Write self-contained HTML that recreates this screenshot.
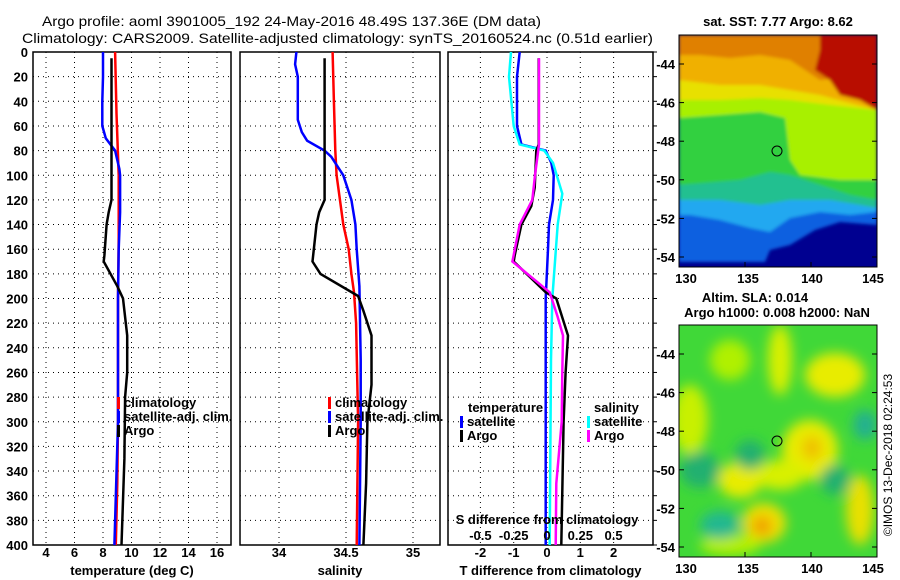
<!DOCTYPE html>
<html><head><meta charset="utf-8"><style>
body{margin:0;background:#fff}
svg{display:block;font-family:"Liberation Sans",sans-serif;font-weight:bold}
text{font-size:13px;fill:#000}
</style></head><body>
<svg id="fig" width="900" height="580" viewBox="0 0 900 580">
<text x="42" y="26" textLength="499" lengthAdjust="spacingAndGlyphs" style="font-size:14px;font-weight:normal">Argo profile: aoml 3901005_192 24-May-2016 48.49S 137.36E (DM data)</text>
<text x="22" y="43" textLength="631" lengthAdjust="spacingAndGlyphs" style="font-size:14px;font-weight:normal">Climatology: CARS2009. Satellite-adjusted climatology: synTS_20160524.nc (0.51d earlier)</text>
<defs>
<clipPath id="c1"><rect x="679" y="35" width="198" height="232"/></clipPath>
<clipPath id="c2"><rect x="679" y="325" width="198" height="232"/></clipPath>
<filter id="bl"><feGaussianBlur stdDeviation="6"/></filter>
<filter id="bs"><feGaussianBlur stdDeviation="1.5"/></filter>
</defs>
<g id="sstmap" clip-path="url(#c1)">
<rect x="679" y="35" width="198" height="232" fill="#000090"/>
<g filter="url(#bs)">
<polygon fill="#1060e0" points="679,35 877,35 877,225 840,222 815,230 790,245 770,250 765,262 679,262"/>
<polygon fill="#20a8f0" points="679,35 877,35 877,212 850,215 820,212 790,218 770,232 750,228 720,220 690,215 679,215"/>
<polygon fill="#20c090" points="679,35 877,35 877,208 860,205 830,200 790,200 760,205 720,200 679,200"/>
<polygon fill="#30d040" points="679,35 877,35 877,200 850,195 820,185 790,175 770,172 740,180 679,185"/>
<polygon fill="#a8f000" points="679,35 877,35 877,180 840,180 800,175 790,160 785,118 760,112 720,115 679,118"/>
<polygon fill="#e8e000" points="679,35 877,35 877,110 830,105 790,100 760,98 720,100 679,100"/>
<polygon fill="#f0b000" points="679,35 877,35 877,110 820,95 760,85 720,85 679,80"/>
<polygon fill="#e08000" points="679,35 877,35 877,75 820,80 790,60 760,55 730,58 700,55 679,55"/>
<polygon fill="#b81000" points="820,35 877,35 877,110 860,100 840,95 830,80 815,70 820,50"/>
</g>
<circle cx="777" cy="151" r="5" fill="none" stroke="#000"/>
</g>
<rect x="679" y="35" width="198" height="232" fill="none" stroke="#000"/>
<text x="778" y="26" text-anchor="middle">sat. SST: 7.77 Argo: 8.62</text>
<g id="slamap" clip-path="url(#c2)">
<rect x="679" y="325" width="198" height="232" fill="#40d838"/>
<g filter="url(#bl)">
<ellipse cx="780" cy="360" rx="12" ry="35" fill="#d8f000"/>
<ellipse cx="835" cy="375" rx="30" ry="22" fill="#e8ec00"/>
<ellipse cx="730" cy="360" rx="20" ry="20" fill="#b0f000"/>
<ellipse cx="690" cy="420" rx="18" ry="35" fill="#c8f000"/>
<ellipse cx="810" cy="450" rx="28" ry="30" fill="#e8ec00"/>
<ellipse cx="812" cy="448" rx="10" ry="12" fill="#f0c000"/>
<ellipse cx="780" cy="475" rx="25" ry="15" fill="#d8f000"/>
<ellipse cx="740" cy="480" rx="22" ry="18" fill="#e8ec00"/>
<ellipse cx="764" cy="523" rx="22" ry="20" fill="#f0e000"/>
<ellipse cx="762" cy="526" rx="10" ry="10" fill="#f0a000"/>
<ellipse cx="860" cy="510" rx="14" ry="35" fill="#e8e000"/>
<ellipse cx="730" cy="545" rx="30" ry="10" fill="#b8f000"/>
<ellipse cx="700" cy="470" rx="20" ry="18" fill="#20b070"/>
<ellipse cx="720" cy="525" rx="20" ry="14" fill="#20b890"/>
<ellipse cx="865" cy="425" rx="12" ry="15" fill="#20b090"/>
<ellipse cx="835" cy="480" rx="15" ry="15" fill="#20b070"/>
<ellipse cx="750" cy="455" rx="15" ry="15" fill="#20b070"/>
</g>
<circle cx="777" cy="441" r="5" fill="none" stroke="#000"/>
</g>
<rect x="679" y="325" width="198" height="232" fill="none" stroke="#000"/>
<text x="755" y="302" text-anchor="middle">Altim. SLA: 0.014</text>
<text x="777" y="317" text-anchor="middle">Argo h1000: 0.008 h2000: NaN</text>
<text transform="translate(892,455) rotate(-90)" text-anchor="middle" style="font-weight:normal;font-size:12px">©IMOS 13-Dec-2018 02:24:53</text>
<g id="axes"></g>
</svg>
<script>
// ---- data ----
const depthTicks = [0,20,40,60,80,100,120,140,160,180,200,220,240,260,280,300,320,340,360,380,400];
const tempTicks = [4,6,8,10,12,14,16];
const salTicks = [34,34.5,35];
const tdiffTicks = [-2,-1,0,1,2];
const sdiffTicks = [-0.5,-0.25,0,0.25,0.5];
const latTicks = [-44,-46,-48,-50,-52,-54];
const lonTicks = [130,135,140,145];

const tClimDepth = [0,50,100,150,200,250,300,350,400];
const tClim = [8.85,8.95,9.1,9.1,9.05,9.05,9.05,9.0,8.9];
const tSatDepth = [0,20,40,60,70,80,95,100,130,160,200,300,400];
const tSat = [8.0,8.0,7.95,7.95,8.2,8.85,9.15,9.2,9.2,9.1,9.05,9.05,8.8];
const tArgoDepth = [5,55,120,130,140,165,170,190,200,230,260,280,330,400];
const tArgo = [8.6,8.6,8.6,8.4,8.25,8.1,8.05,9.0,9.4,9.7,9.7,9.55,9.5,9.3];

const sClimDepth = [0,40,80,100,140,160,180,195,220,300,400];
const sClim = [34.40,34.41,34.42,34.43,34.48,34.52,34.54,34.56,34.575,34.59,34.58];
const sSatDepth = [0,10,20,55,65,72,80,85,100,120,140,160,190,250,300,400];
const sSat = [34.13,34.12,34.14,34.14,34.17,34.21,34.34,34.39,34.48,34.54,34.57,34.58,34.60,34.61,34.61,34.60];
const sArgoDepth = [5,120,130,140,170,180,198,210,230,270,300,350,400];
const sArgo = [34.34,34.34,34.30,34.28,34.25,34.31,34.59,34.63,34.69,34.69,34.66,34.65,34.63];

const dTSatDepth = [0,20,60,75,80,90,100,120,140,160,200,400];
const dTSat = [-0.82,-0.9,-0.9,-0.77,-0.04,0.13,0.2,0.18,0.06,0.03,-0.04,-0.04];
const dTArgoDepth = [5,75,80,110,125,140,165,170,185,195,200,230,260,300,400];
const dTArgo = [-0.25,-0.25,-0.32,-0.37,-0.47,-0.77,-0.97,-1.0,-0.42,-0.04,0.28,0.63,0.56,0.5,0.43];
const dSSatDepth = [0,20,60,75,80,90,115,140,170,200,250,400];
const dSSat = [-0.27,-0.285,-0.25,-0.205,-0.02,0.045,0.115,0.08,0.06,0.04,0.03,0.02];
const dSArgoDepth = [5,75,100,120,140,170,195,215,230,260,300,350,400];
const dSArgo = [-0.06,-0.06,-0.09,-0.11,-0.205,-0.26,0.02,0.08,0.12,0.115,0.11,0.07,0.065];

// ---- scales ----
const NS='http://www.w3.org/2000/svg';
const g=document.getElementById('axes');
const Y0=52,Y1=545;
const yD=d=>Y0+(d/400)*(Y1-Y0);
const xT=v=>103+(v-8)*14.25;
const xS=v=>279+(v-34)*134;
const xDT=v=>547+v*33.3;
const xDS=v=>547+v*133.2;
function el(tag,attrs,parent){const e=document.createElementNS(NS,tag);for(const k in attrs)e.setAttribute(k,attrs[k]);(parent||g).appendChild(e);return e;}
function txt(x,y,s,anchor,name){const t=el('text',{x:x,y:y,'text-anchor':anchor||'middle'});t.textContent=s;


return t;}

const panels=[{x0:33,x1:231,ticks:tempTicks,sc:xT,title:'temperature (deg C)',name:'temperature-panel'},
{x0:240,x1:440,ticks:salTicks,sc:xS,title:'salinity',name:'salinity-panel'},
{x0:448,x1:653,ticks:tdiffTicks,sc:xDT,title:'T difference from climatology',name:'difference-panel'}];
panels.forEach(p=>{
 const grp=el('g',{});
 
 
 depthTicks.forEach(d=>{if(d>0&&d<400){const l=el('line',{x1:p.x0,x2:p.x1,y1:yD(d),y2:yD(d),stroke:'#000','stroke-dasharray':'1 4'},grp);
 }});
 p.ticks.forEach(v=>{const x=p.sc(v);const l=el('line',{x1:x,x2:x,y1:Y0,y2:Y1,stroke:'#000','stroke-dasharray':'1 4'},grp);
 
 const t=txt(x,557,String(v),'middle','x-tick-label');grp.appendChild(t);});
 const r=el('rect',{x:p.x0,y:Y0,width:p.x1-p.x0,height:Y1-Y0,fill:'none',stroke:'#000','stroke-width':1.5},grp);
 
 const tt=txt((p.x0+p.x1)/2,575,p.title,'middle','x-axis-title');grp.appendChild(tt);
});
depthTicks.forEach(d=>{txt(28,yD(d)+5,String(d),'end','depth-tick-label');
 const l=el('line',{x1:653,x2:657,y1:yD(d),y2:yD(d),stroke:'#000'});});

function series(depths,vals,sc,color,name,w){
 const pts=depths.map((d,i)=>sc(vals[i]).toFixed(1)+','+yD(d).toFixed(1)).join(' ');
 const pl=el('polyline',{points:pts,fill:'none',stroke:color,'stroke-width':w||2.5});
 
 
}
series(tClimDepth,tClim,xT,'#f00','temp-climatology-line');
series(tSatDepth,tSat,xT,'#00f','temp-satellite-line');
series(tArgoDepth,tArgo,xT,'#000','temp-argo-line');
series(sClimDepth,sClim,xS,'#f00','sal-climatology-line');
series(sSatDepth,sSat,xS,'#00f','sal-satellite-line');
series(sArgoDepth,sArgo,xS,'#000','sal-argo-line');
series(dTSatDepth,dTSat,xDT,'#00f','tdiff-satellite-line');
series(dSSatDepth,dSSat,xDS,'#0ff','sdiff-satellite-line');
series(dTArgoDepth,dTArgo,xDT,'#000','tdiff-argo-line');
series(dSArgoDepth,dSArgo,xDS,'#f0f','sdiff-argo-line');

function legend(x,y,color,label,name){
 const m=el('rect',{x:x,y:y-10,width:3,height:12,fill:color});
 
 
 txt(x+7,y,label,'start',name);
}
legend(117,407,'#f00','climatology','legend-climatology');
legend(117,421,'#00f','satellite-adj. clim.','legend-satellite');
legend(117,435,'#000','Argo','legend-argo');
legend(328,407,'#f00','climatology','legend-sal-climatology');
legend(328,421,'#00f','satellite-adj. clim.','legend-sal-satellite');
legend(328,435,'#000','Argo','legend-sal-argo');
txt(468,412,'temperature','start','legend-temperature-header');
legend(460,426,'#00f','satellite','legend-tdiff-satellite');
legend(460,440,'#000','Argo','legend-tdiff-argo');
txt(594,412,'salinity','start','legend-salinity-header');
legend(587,426,'#0ff','satellite','legend-sdiff-satellite');
legend(587,440,'#f0f','Argo','legend-sdiff-argo');
txt(547,524,'S difference from climatology','middle','sdiff-axis-title');
sdiffTicks.forEach(v=>txt(xDS(v),540,String(v),'middle','sdiff-tick-label'));

[[35,267],[325,557]].forEach(([t,b],k)=>{
 latTicks.forEach(v=>{const y=t+29+(-44-v)*19.3;
  txt(675,y+5,String(v),'end','lat-tick-label');
  const l=el('line',{x1:679,x2:684,y1:y,y2:y,stroke:'#000'});
  const l2=el('line',{x1:872,x2:877,y1:y,y2:y,stroke:'#000'});});
 lonTicks.forEach((v,i)=>{const x=679+(v-130)/15*198;
  txt([686,748,812,873][i],b+16,String(v),'middle','lon-tick-label');
  const l=el('line',{x1:x,x2:x,y1:b,y2:b-5,stroke:'#000'});});
});
</script>
</body></html>
